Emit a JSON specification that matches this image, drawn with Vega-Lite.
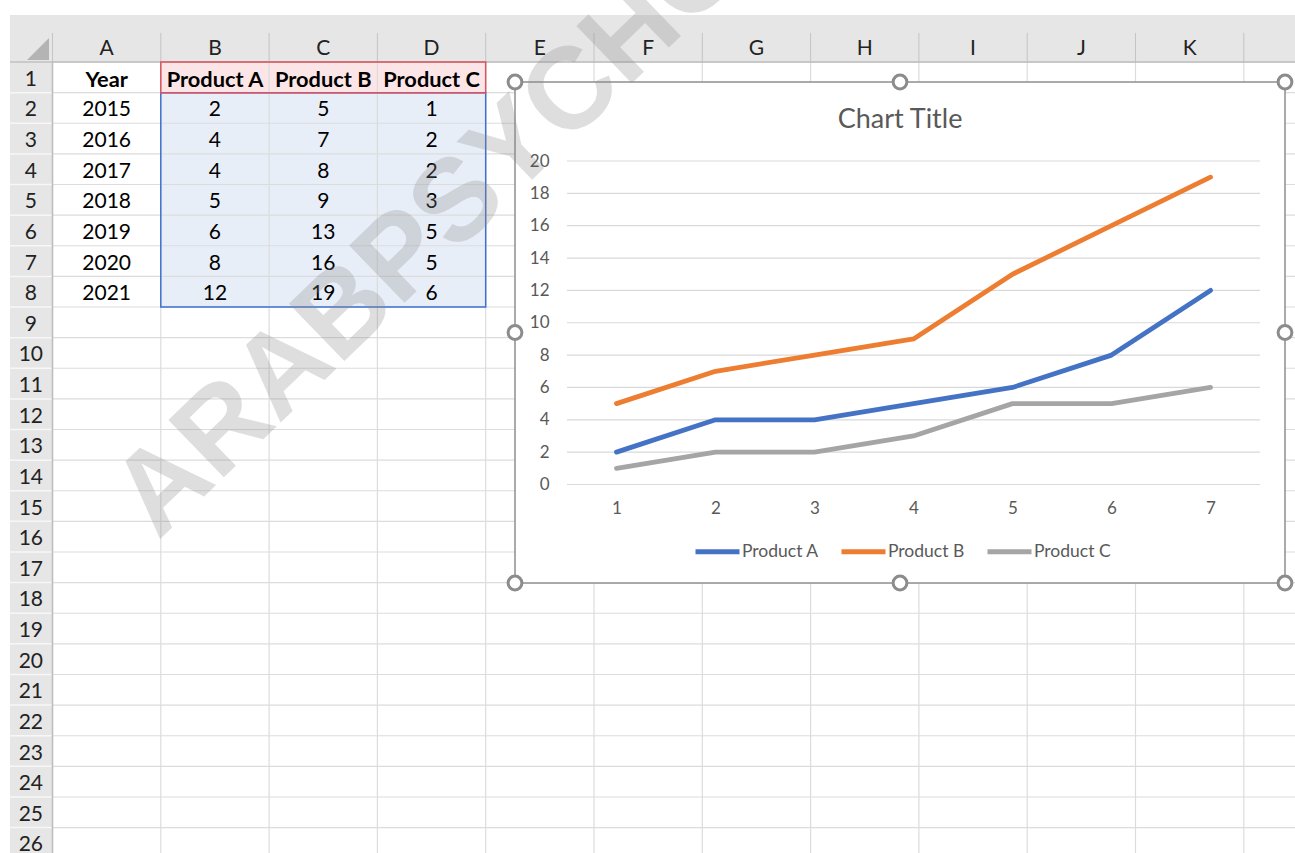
{
  "$schema": "https://vega.github.io/schema/vega-lite/v6.json",
  "width": 1295,
  "height": 853,
  "padding": 0,
  "autosize": {"type": "none"},
  "background": "white",
  "config": {"view": {"stroke": null}, "font": "Lato"},
  "datasets": {
    "one": [{"part": "area"}],
    "colEdges": [{"e": 0.5}, {"e": 1.5}, {"e": 2.5}, {"e": 3.5}, {"e": 4.5}, {"e": 5.5}, {"e": 6.5}, {"e": 7.5}, {"e": 8.5}, {"e": 9.5}, {"e": 10.5}, {"e": 11.5}, {"e": 12.5}],
    "rowEdges": [{"e": 0.5}, {"e": 1.5}, {"e": 2.5}, {"e": 3.5}, {"e": 4.5}, {"e": 5.5}, {"e": 6.5}, {"e": 7.5}, {"e": 8.5}, {"e": 9.5}, {"e": 10.5}, {"e": 11.5}, {"e": 12.5}, {"e": 13.5}, {"e": 14.5}, {"e": 15.5}, {"e": 16.5}, {"e": 17.5}, {"e": 18.5}, {"e": 19.5}, {"e": 20.5}, {"e": 21.5}, {"e": 22.5}, {"e": 23.5}, {"e": 24.5}, {"e": 25.5}, {"e": 26.5}],
    "colLetters": [{"col": 1, "letter": "A"}, {"col": 2, "letter": "B"}, {"col": 3, "letter": "C"}, {"col": 4, "letter": "D"}, {"col": 5, "letter": "E"}, {"col": 6, "letter": "F"}, {"col": 7, "letter": "G"}, {"col": 8, "letter": "H"}, {"col": 9, "letter": "I"}, {"col": 10, "letter": "J"}, {"col": 11, "letter": "K"}],
    "rowNums": [{"row": 1}, {"row": 2}, {"row": 3}, {"row": 4}, {"row": 5}, {"row": 6}, {"row": 7}, {"row": 8}, {"row": 9}, {"row": 10}, {"row": 11}, {"row": 12}, {"row": 13}, {"row": 14}, {"row": 15}, {"row": 16}, {"row": 17}, {"row": 18}, {"row": 19}, {"row": 20}, {"row": 21}, {"row": 22}, {"row": 23}, {"row": 24}, {"row": 25}, {"row": 26}],
    "headerCells": [
      {"row": 1, "col": 1, "text": "Year"},
      {"row": 1, "col": 2, "text": "Product A"},
      {"row": 1, "col": 3, "text": "Product B"},
      {"row": 1, "col": 4, "text": "Product C"}
    ],
    "cells": [
      {"row": 2, "col": 1, "text": "2015"}, {"row": 2, "col": 2, "text": "2"}, {"row": 2, "col": 3, "text": "5"}, {"row": 2, "col": 4, "text": "1"},
      {"row": 3, "col": 1, "text": "2016"}, {"row": 3, "col": 2, "text": "4"}, {"row": 3, "col": 3, "text": "7"}, {"row": 3, "col": 4, "text": "2"},
      {"row": 4, "col": 1, "text": "2017"}, {"row": 4, "col": 2, "text": "4"}, {"row": 4, "col": 3, "text": "8"}, {"row": 4, "col": 4, "text": "2"},
      {"row": 5, "col": 1, "text": "2018"}, {"row": 5, "col": 2, "text": "5"}, {"row": 5, "col": 3, "text": "9"}, {"row": 5, "col": 4, "text": "3"},
      {"row": 6, "col": 1, "text": "2019"}, {"row": 6, "col": 2, "text": "6"}, {"row": 6, "col": 3, "text": "13"}, {"row": 6, "col": 4, "text": "5"},
      {"row": 7, "col": 1, "text": "2020"}, {"row": 7, "col": 2, "text": "8"}, {"row": 7, "col": 3, "text": "16"}, {"row": 7, "col": 4, "text": "5"},
      {"row": 8, "col": 1, "text": "2021"}, {"row": 8, "col": 2, "text": "12"}, {"row": 8, "col": 3, "text": "19"}, {"row": 8, "col": 4, "text": "6"}
    ],
    "handles": [
      {"side": "left", "level": "top"}, {"side": "center", "level": "top"}, {"side": "right", "level": "top"},
      {"side": "left", "level": "middle"}, {"side": "right", "level": "middle"},
      {"side": "left", "level": "bottom"}, {"side": "center", "level": "bottom"}, {"side": "right", "level": "bottom"}
    ],
    "yticks": [{"v": 0}, {"v": 2}, {"v": 4}, {"v": 6}, {"v": 8}, {"v": 10}, {"v": 12}, {"v": 14}, {"v": 16}, {"v": 18}, {"v": 20}],
    "sales": [
      {"point": 1, "product": "Product A", "value": 2}, {"point": 2, "product": "Product A", "value": 4}, {"point": 3, "product": "Product A", "value": 4}, {"point": 4, "product": "Product A", "value": 5}, {"point": 5, "product": "Product A", "value": 6}, {"point": 6, "product": "Product A", "value": 8}, {"point": 7, "product": "Product A", "value": 12},
      {"point": 1, "product": "Product B", "value": 5}, {"point": 2, "product": "Product B", "value": 7}, {"point": 3, "product": "Product B", "value": 8}, {"point": 4, "product": "Product B", "value": 9}, {"point": 5, "product": "Product B", "value": 13}, {"point": 6, "product": "Product B", "value": 16}, {"point": 7, "product": "Product B", "value": 19},
      {"point": 1, "product": "Product C", "value": 1}, {"point": 2, "product": "Product C", "value": 2}, {"point": 3, "product": "Product C", "value": 2}, {"point": 4, "product": "Product C", "value": 3}, {"point": 5, "product": "Product C", "value": 5}, {"point": 6, "product": "Product C", "value": 5}, {"point": 7, "product": "Product C", "value": 6}
    ],
    "chartTitle": [{"label": "Chart Title"}],
    "watermark": [{"text": "ARABPSYCHOLOGY"}]
  },
  "resolve": {"scale": {"x": "independent", "y": "independent"}, "axis": {"x": "independent", "y": "independent"}},
  "layer": [
    {
      "layer": [
        {"data": {"name": "one"}, "mark": {"type": "rect", "fill": "#e6e6e6"},
         "encoding": {
           "x": {"datum": 0.1076, "type": "quantitative", "scale": {"domain": [0, 12], "range": [-1.65, 1297.95], "zero": false, "nice": false}, "axis": null},
           "x2": {"datum": 12.5},
           "y": {"datum": -1.035, "type": "quantitative", "scale": {"domain": [0, 27], "range": [46.69, 873.56], "zero": false, "nice": false}, "axis": null},
           "y2": {"datum": 0.5}}},
        {"data": {"name": "one"}, "mark": {"type": "rect", "fill": "#e6e6e6"},
         "encoding": {"x": {"datum": 0.1076, "type": "quantitative"}, "x2": {"datum": 0.5}, "y": {"datum": 0.5, "type": "quantitative"}, "y2": {"datum": 27}}},
        {"data": {"name": "one"}, "mark": {"type": "rect", "fill": "#fbe5e6"},
         "encoding": {"x": {"datum": 1.5, "type": "quantitative"}, "x2": {"datum": 4.5}, "y": {"datum": 0.5, "type": "quantitative"}, "y2": {"datum": 1.5}}},
        {"data": {"name": "one"}, "mark": {"type": "rect", "fill": "#e8eef8"},
         "encoding": {"x": {"datum": 1.5, "type": "quantitative"}, "x2": {"datum": 4.5}, "y": {"datum": 1.5, "type": "quantitative"}, "y2": {"datum": 8.5}}},
        {"data": {"name": "colEdges"}, "mark": {"type": "rule", "stroke": "#dcdcdc", "strokeWidth": 1.2},
         "encoding": {"x": {"field": "e", "type": "quantitative"}, "y": {"datum": 0.5, "type": "quantitative"}, "y2": {"datum": 27}}},
        {"data": {"name": "rowEdges"}, "mark": {"type": "rule", "stroke": "#dcdcdc", "strokeWidth": 1.2},
         "encoding": {"y": {"field": "e", "type": "quantitative"}, "x": {"datum": 0.5, "type": "quantitative"}, "x2": {"datum": 12.5}}},
        {"data": {"name": "rowEdges"}, "mark": {"type": "rule", "stroke": "#f7f7f7", "strokeWidth": 1.5},
         "encoding": {"y": {"field": "e", "type": "quantitative"}, "x": {"datum": 0.1076, "type": "quantitative"}, "x2": {"datum": 0.5}}},
        {"data": {"name": "colEdges"}, "mark": {"type": "rule", "stroke": "#c4c4c4", "strokeWidth": 1},
         "encoding": {"x": {"field": "e", "type": "quantitative"}, "y": {"datum": -0.45, "type": "quantitative"}, "y2": {"datum": 0.5}}},
        {"data": {"name": "one"}, "mark": {"type": "rule", "stroke": "#bdbdbd", "strokeWidth": 1.5},
         "encoding": {"y": {"datum": 0.5, "type": "quantitative"}, "x": {"datum": 0.1076, "type": "quantitative"}, "x2": {"datum": 12.5}}},
        {"data": {"name": "one"}, "mark": {"type": "rule", "stroke": "#bdbdbd", "strokeWidth": 1.5},
         "encoding": {"x": {"datum": 0.5, "type": "quantitative"}, "y": {"datum": 0.5, "type": "quantitative"}, "y2": {"datum": 27}}},
        {"data": {"name": "one"}, "mark": {"type": "rect", "fill": null, "stroke": "#3f6fcf", "strokeWidth": 1.5},
         "encoding": {"x": {"datum": 1.5, "type": "quantitative"}, "x2": {"datum": 4.5}, "y": {"datum": 1.5, "type": "quantitative"}, "y2": {"datum": 8.5}}},
        {"data": {"name": "one"}, "mark": {"type": "rect", "fill": null, "stroke": "#d9545e", "strokeWidth": 1.5},
         "encoding": {"x": {"datum": 1.5, "type": "quantitative"}, "x2": {"datum": 4.5}, "y": {"datum": 0.5, "type": "quantitative"}, "y2": {"datum": 1.5}}},
        {"data": {"name": "one"}, "mark": {"type": "point", "shape": "M -1 1 L 1 1 L 1 -1 Z", "filled": true, "fill": "#b4b4b4", "size": 484, "opacity": 1},
         "encoding": {"x": {"datum": 0.366, "type": "quantitative"}, "y": {"datum": 0.075, "type": "quantitative"}}},
        {"data": {"name": "colLetters"}, "mark": {"type": "text", "font": "Lato", "fontSize": 21, "color": "#222222", "baseline": "middle", "dy": 2.5},
         "encoding": {"text": {"field": "letter"}, "x": {"field": "col", "type": "quantitative"}, "y": {"datum": 0, "type": "quantitative"}}},
        {"data": {"name": "rowNums"}, "mark": {"type": "text", "font": "Lato", "fontSize": 21, "color": "#222222", "baseline": "middle", "dy": 2.5},
         "encoding": {"text": {"field": "row"}, "y": {"field": "row", "type": "quantitative"}, "x": {"datum": 0.3, "type": "quantitative"}}},
        {"data": {"name": "headerCells"}, "mark": {"type": "text", "font": "Lato", "fontSize": 21.8, "fontWeight": "bold", "color": "#000000", "baseline": "middle", "dy": 2.5},
         "encoding": {"text": {"field": "text"}, "x": {"field": "col", "type": "quantitative"}, "y": {"field": "row", "type": "quantitative"}}},
        {"data": {"name": "cells"}, "mark": {"type": "text", "font": "Lato", "fontSize": 21, "color": "#000000", "baseline": "middle", "dy": 2.5},
         "encoding": {"text": {"field": "text"}, "x": {"field": "col", "type": "quantitative"}, "y": {"field": "row", "type": "quantitative"}}}
      ]
    },
    {
      "layer": [
        {"data": {"name": "one"}, "mark": {"type": "rect", "fill": "white", "stroke": "#8f8f8f", "strokeWidth": 1.5},
         "encoding": {
           "x": {"datum": "left", "type": "ordinal", "scale": {"type": "point", "domain": ["left", "center", "right"], "range": [515, 1285], "padding": 0}, "axis": null},
           "x2": {"datum": "right"},
           "y": {"datum": "top", "type": "ordinal", "scale": {"type": "point", "domain": ["top", "middle", "bottom"], "range": [82, 583], "padding": 0}, "axis": null},
           "y2": {"datum": "bottom"}}},
        {"data": {"name": "handles"}, "mark": {"type": "point", "shape": "circle", "filled": true, "fill": "white", "stroke": "#8c8c8c", "strokeWidth": 3, "size": 190, "opacity": 1},
         "encoding": {"x": {"field": "side", "type": "ordinal"}, "y": {"field": "level", "type": "ordinal"}}}
      ]
    },
    {
      "layer": [
        {"data": {"name": "yticks"}, "mark": {"type": "rule", "stroke": "#d9d9d9", "strokeWidth": 1.2},
         "encoding": {"y": {"field": "v", "type": "quantitative"}, "x": {"datum": 0.5, "type": "quantitative"}, "x2": {"datum": 7.5}}},
        {"data": {"name": "sales"}, "mark": {"type": "line", "strokeWidth": 4.8, "strokeCap": "round", "strokeJoin": "round"},
         "encoding": {
           "x": {"field": "point", "type": "quantitative",
                 "scale": {"domain": [0.5, 7.5], "range": [567, 1260], "zero": false, "nice": false},
                 "axis": {"orient": "bottom", "offset": -368.5, "tickCount": 7, "format": "d", "domain": false, "ticks": false, "grid": false, "labelPadding": 16, "labelFont": "Lato", "labelFontSize": 17, "labelColor": "#595959", "title": null, "zindex": 2}},
           "y": {"field": "value", "type": "quantitative",
                 "scale": {"domain": [0, 20], "range": [484.5, 161], "zero": false, "nice": false},
                 "axis": {"orient": "left", "offset": -567, "tickCount": 10, "domain": false, "ticks": false, "grid": false, "labelPadding": 18, "labelFont": "Lato", "labelFontSize": 17, "labelColor": "#595959", "title": null, "zindex": 2}},
           "color": {"field": "product", "type": "nominal",
                     "scale": {"domain": ["Product A", "Product B", "Product C"], "range": ["#4472C4", "#ED7D31", "#A5A5A5"]},
                     "legend": {"orient": "none", "legendX": 693, "legendY": 527, "direction": "horizontal", "title": null, "symbolType": "stroke", "symbolStrokeWidth": 5, "symbolSize": 1936, "labelFont": "Lato", "labelFontSize": 17.5, "labelColor": "#595959", "labelOffset": 0, "columnPadding": 12, "padding": 0, "zindex": 2}}}},
        {"data": {"name": "chartTitle"}, "mark": {"type": "text", "font": "Lato", "fontSize": 27, "color": "#595959", "baseline": "middle"},
         "encoding": {"text": {"field": "label"}, "x": {"datum": 3.864, "type": "quantitative"}, "y": {"datum": 22.55, "type": "quantitative"}}}
      ]
    },
    {
      "data": {"name": "watermark"},
      "mark": {"type": "text", "font": "Liberation Sans", "fontWeight": "bold", "fontSize": 116, "angle": 316, "align": "left", "baseline": "alphabetic", "fill": "#8c8c8c", "opacity": 0.28},
      "encoding": {
        "text": {"field": "text"},
        "x": {"datum": 1.474, "type": "quantitative", "scale": {"domain": [0, 12], "range": [-1.65, 1297.95], "zero": false, "nice": false}, "axis": null},
        "y": {"datum": 16.14, "type": "quantitative", "scale": {"domain": [0, 27], "range": [46.69, 873.56], "zero": false, "nice": false}, "axis": null}
      }
    }
  ]
}
